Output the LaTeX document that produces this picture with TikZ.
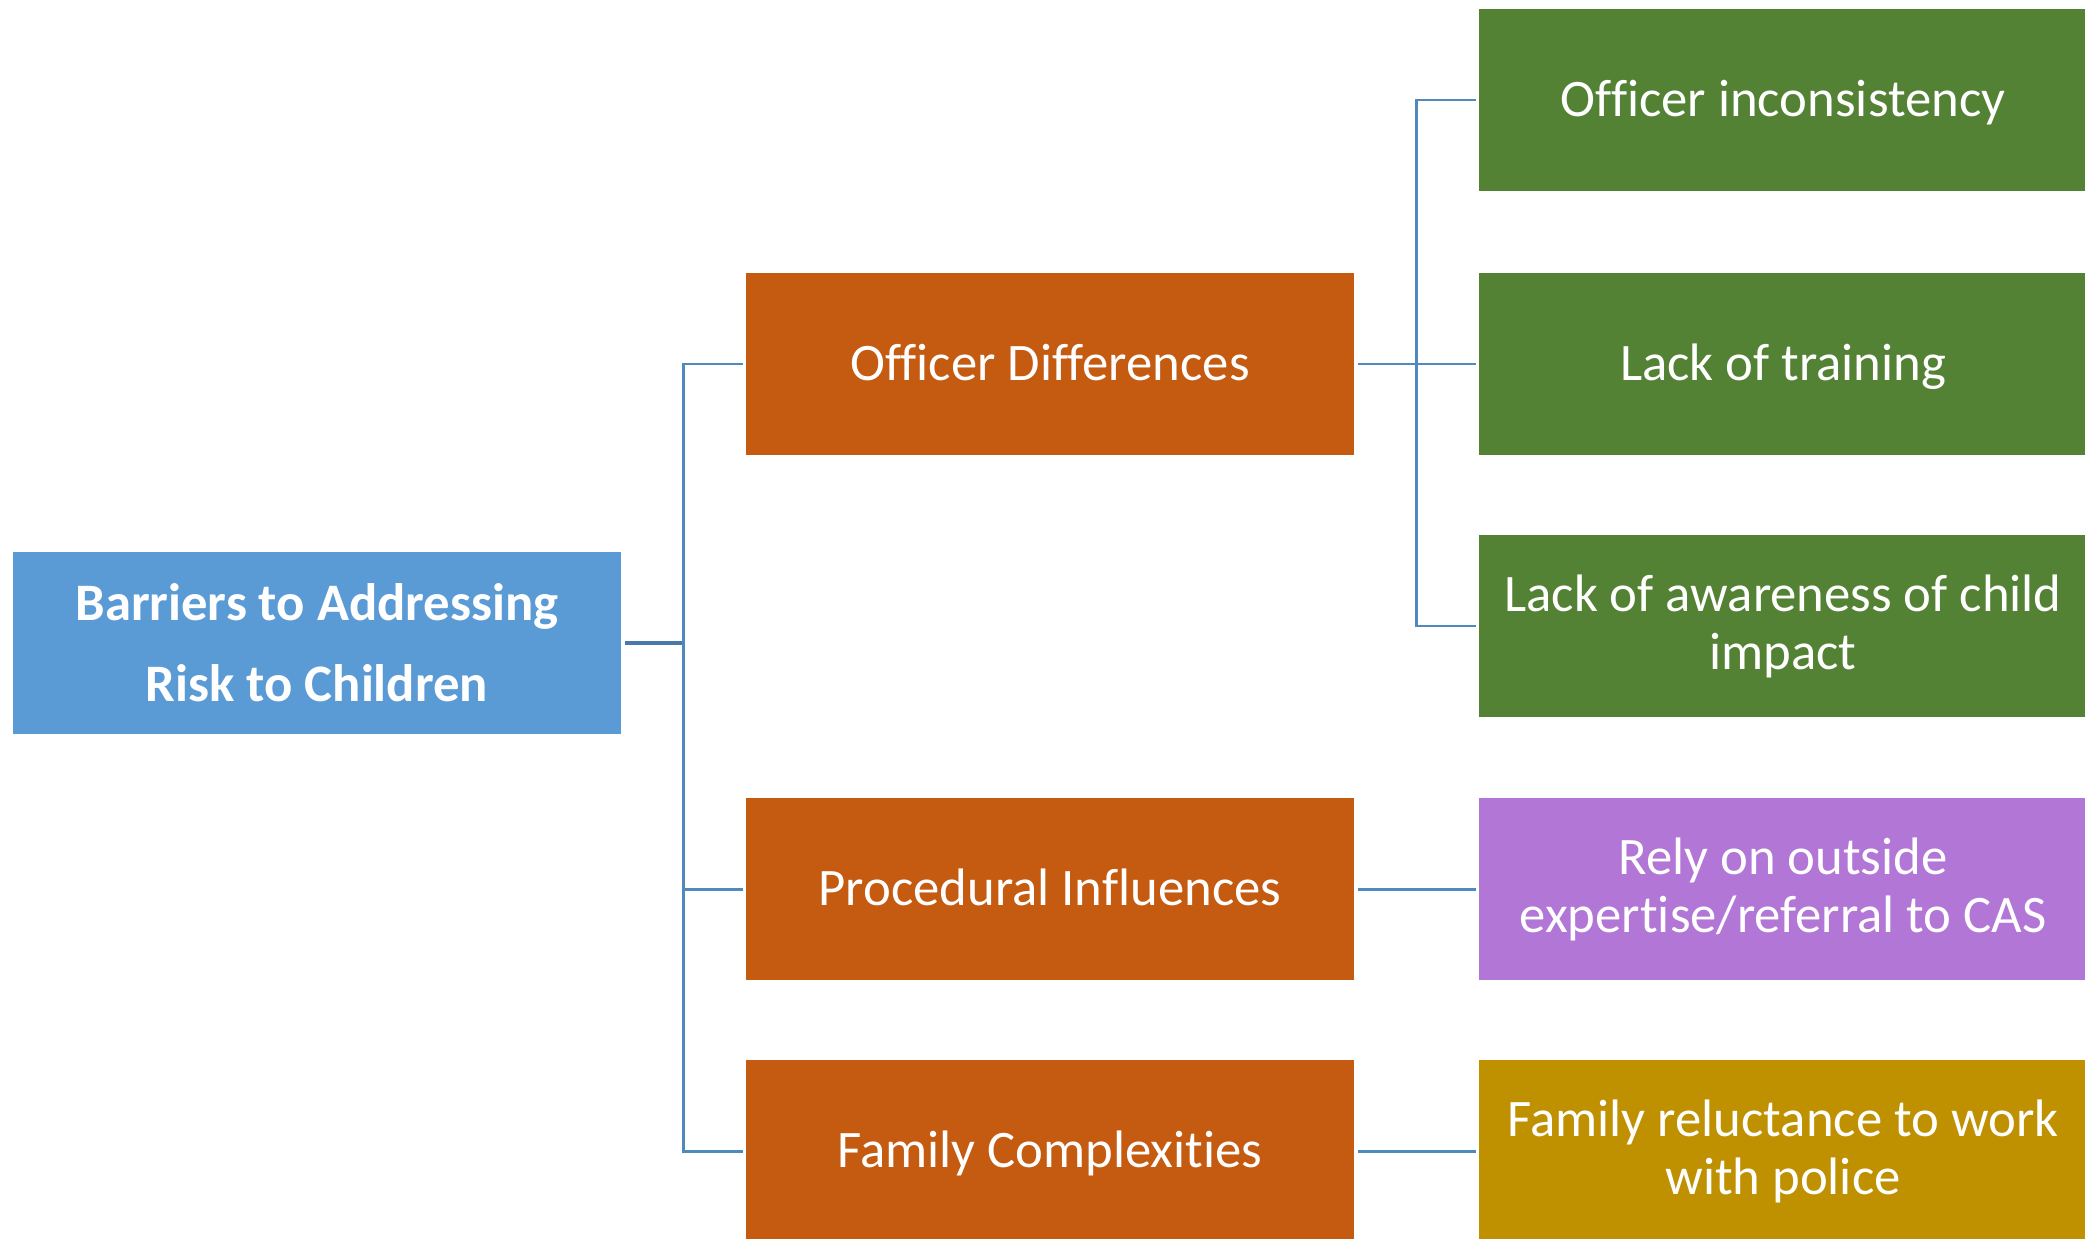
\documentclass[tikz,border=0pt]{standalone}
\usepackage{fontspec}
\setmainfont[Ligatures=NoCommon]{Carlito}
\usetikzlibrary{positioning}

\definecolor{rootblue}{HTML}{5B9BD5}
\definecolor{midorange}{HTML}{C55A11}
\definecolor{leafgreen}{HTML}{548235}
\definecolor{leafpurple}{HTML}{B276D6}
\definecolor{leafgold}{HTML}{BF9000}
\definecolor{linkblue}{HTML}{5088C0}
\definecolor{linkdark}{HTML}{4A78A8}

\tikzset{
  box/.style={rectangle, minimum width=6.08cm, minimum height=1.82cm, inner sep=0pt,
    text=white, align=center, font=\fontsize{15}{16.5}\selectfont},
  oneline/.style={text height=10.6pt, text depth=1.2pt},
  rootbox/.style={box, fill=rootblue, font=\fontsize{15}{23}\selectfont\bfseries},
  midbox/.style={box, oneline, fill=midorange},
  greenbox/.style={box, fill=leafgreen},
  link/.style={draw=linkblue, line width=0.85pt},
  rootlink/.style={draw=linkdark, line width=1.1pt}
}

\begin{document}
\begin{tikzpicture}

\useasboundingbox (0,0) rectangle (20.85,-12.39);

% root
\node[rootbox] (barriers) at (3.17,-6.43) {Barriers to Addressing\\Risk to Children};

% middle column
\node[midbox] (officer) at (10.50,-3.64) {Officer Differences};
\node[midbox] (procedural) at (10.50,-8.89) {Procedural Influences};
\node[midbox] (family) at (10.50,-11.51) {Family Complexities};

% right column
\node[greenbox, oneline] (inconsist) at (17.83,-1.00) {Officer inconsistency};
\node[greenbox, oneline] (training) at (17.83,-3.64) {Lack of training};
\node[greenbox] (awareness) at (17.83,-6.26) {Lack of awareness of child\\impact};
\node[box, fill=leafpurple] (outside) at (17.83,-8.89) {Rely on outside\\expertise/referral to CAS};
\node[box, fill=leafgold] (reluct) at (17.83,-11.51) {Family reluctance to work\\with police};

% connectors, root to middle
\coordinate (trunkL) at (6.83,-6.43);
\draw[rootlink] ([xshift=0.03cm]barriers.east) -- (trunkL);
\draw[link] ([xshift=-0.02cm]officer.west) -| (trunkL);
\draw[link] ([xshift=-0.02cm]family.west) -| (trunkL);
\draw[link] ([xshift=-0.02cm]procedural.west) -- (procedural.west -| trunkL);

% connectors, officer to leaves
\coordinate (trunkR) at (14.16,-3.64);
\draw[link] ([xshift=0.03cm]officer.east) -- ([xshift=-0.02cm]training.west);
\draw[link] ([xshift=-0.02cm]inconsist.west) -| (trunkR);
\draw[link] ([xshift=-0.02cm]awareness.west) -| (trunkR);

% single leaves
\draw[link] ([xshift=0.03cm]procedural.east) -- ([xshift=-0.02cm]outside.west);
\draw[link] ([xshift=0.03cm]family.east) -- ([xshift=-0.02cm]reluct.west);

\end{tikzpicture}
\end{document}
